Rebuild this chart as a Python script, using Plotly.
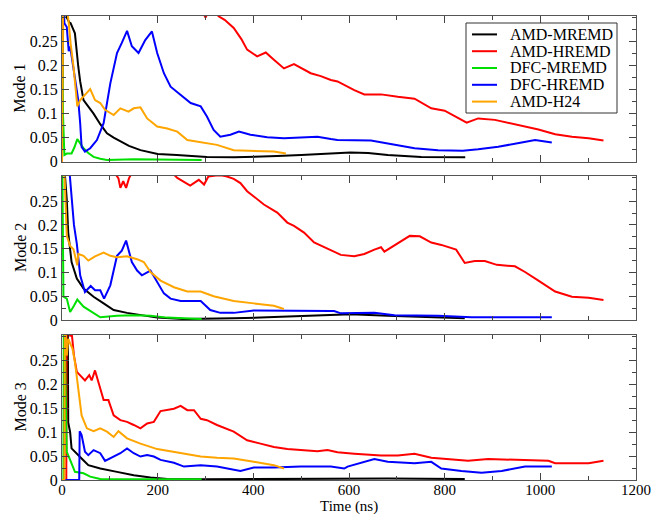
import plotly.graph_objects as go

# ---------------- data ----------------
series_names = ["AMD-MREMD", "AMD-HREMD", "DFC-MREMD", "DFC-HREMD", "AMD-H24"]
series_colors = ["#000000", "#ff0000", "#00e000", "#0000ff", "#ffa500"]
mode_labels = ["Mode 1", "Mode 2", "Mode 3"]
x_ticks = [0, 200, 400, 600, 800, 1000, 1200]
y_ticks = [0, 0.05, 0.1, 0.15, 0.2, 0.25]

# Mode 1
m1_amd_mremd_t = [0, 5, 10, 15, 18, 27, 34, 38, 45, 55, 66, 80, 94, 108, 122, 140, 164, 200, 240, 303, 360, 401, 450, 500, 541, 562, 603, 640, 681, 751, 803, 843]
m1_amd_mremd_v = [0.45, 0.33, 0.30, 0.29, 0.288, 0.267, 0.198, 0.167, 0.128, 0.115, 0.100, 0.078, 0.059, 0.050, 0.042, 0.033, 0.024, 0.016, 0.014, 0.010, 0.009, 0.010, 0.012, 0.014, 0.016, 0.017, 0.019, 0.018, 0.014, 0.010, 0.010, 0.009]
m1_amd_hremd_t = [0, 5, 50, 150, 250, 295, 300, 305, 320, 328, 340, 359, 375, 387, 408, 426, 443, 464, 485, 520, 541, 562, 576, 611, 632, 667, 702, 737, 772, 800, 846, 870, 905, 961, 996, 1031, 1066, 1101, 1132]
m1_amd_hremd_v = [0.0, 0.6, 0.45, 0.38, 0.33, 0.31, 0.30, 0.31, 0.31, 0.302, 0.295, 0.278, 0.255, 0.233, 0.219, 0.227, 0.212, 0.194, 0.203, 0.184, 0.178, 0.170, 0.167, 0.149, 0.140, 0.140, 0.135, 0.131, 0.111, 0.106, 0.081, 0.090, 0.087, 0.074, 0.067, 0.057, 0.052, 0.049, 0.044]
m1_dfc_mremd_t = [0, 2, 5, 10, 20, 26, 32, 38, 45, 55, 66, 80, 94, 150, 200, 250, 292]
m1_dfc_mremd_v = [0.4, 0.1, 0.014, 0.017, 0.017, 0.030, 0.047, 0.038, 0.028, 0.018, 0.010, 0.006, 0.0035, 0.005, 0.005, 0.004, 0.0035]
m1_dfc_hremd_t = [0, 5, 10, 14, 17, 20, 27, 34, 38, 41, 48, 59, 73, 87, 101, 115, 125, 136, 146, 160, 174, 188, 199, 213, 227, 248, 269, 290, 303, 317, 331, 352, 370, 394, 429, 464, 499, 534, 562, 576, 646, 681, 737, 786, 838, 870, 912, 961, 989, 1024]
m1_dfc_hremd_v = [0.45, 0.288, 0.28, 0.23, 0.24, 0.22, 0.177, 0.128, 0.08, 0.031, 0.021, 0.028, 0.045, 0.080, 0.163, 0.226, 0.247, 0.272, 0.240, 0.226, 0.253, 0.271, 0.226, 0.184, 0.156, 0.139, 0.122, 0.115, 0.094, 0.066, 0.052, 0.056, 0.0625, 0.056, 0.051, 0.049, 0.050, 0.052, 0.047, 0.045, 0.044, 0.038, 0.028, 0.024, 0.023, 0.026, 0.031, 0.040, 0.045, 0.040]
m1_amd_h24_t = [0, 3, 10, 14, 18, 24, 32, 38, 48, 59, 69, 80, 90, 108, 122, 139, 150, 164, 178, 199, 220, 241, 262, 290, 324, 359, 401, 443, 468]
m1_amd_h24_v = [0.0, 0.45, 0.32, 0.29, 0.246, 0.198, 0.115, 0.128, 0.139, 0.151, 0.128, 0.122, 0.108, 0.097, 0.111, 0.104, 0.111, 0.113, 0.090, 0.073, 0.069, 0.0625, 0.045, 0.040, 0.035, 0.024, 0.022, 0.021, 0.017]

# Mode 2
m2_amd_mremd_t = [0, 5, 10, 13, 20, 31, 45, 66, 87, 108, 136, 171, 199, 255, 303, 359, 429, 499, 541, 562, 604, 681, 751, 842]
m2_amd_mremd_v = [0.45, 0.32, 0.253, 0.184, 0.122, 0.087, 0.066, 0.049, 0.035, 0.021, 0.015, 0.010, 0.005, 0.002, 0.002, 0.0035, 0.0056, 0.008, 0.009, 0.010, 0.012, 0.009, 0.006, 0.0035]
m2_amd_hremd_t = [0, 50, 110, 118, 122, 128, 134, 140, 146, 160, 200, 235, 241, 255, 268, 286, 297, 306, 330, 345, 359, 373, 387, 401, 422, 450, 471, 485, 506, 527, 548, 562, 583, 611, 632, 653, 667, 674, 688, 709, 727, 748, 772, 793, 824, 842, 863, 884, 909, 947, 968, 996, 1031, 1066, 1101, 1132]
m2_amd_hremd_v = [0.6, 0.4, 0.31, 0.298, 0.278, 0.292, 0.278, 0.298, 0.31, 0.33, 0.32, 0.305, 0.299, 0.290, 0.283, 0.295, 0.285, 0.302, 0.305, 0.302, 0.297, 0.288, 0.271, 0.260, 0.243, 0.226, 0.205, 0.198, 0.184, 0.163, 0.153, 0.146, 0.137, 0.134, 0.139, 0.148, 0.153, 0.144, 0.153, 0.167, 0.177, 0.176, 0.163, 0.158, 0.148, 0.120, 0.124, 0.124, 0.116, 0.113, 0.101, 0.083, 0.060, 0.049, 0.047, 0.042]
m2_dfc_mremd_t = [0, 3, 10, 17, 25, 32, 45, 66, 80, 115, 150, 185, 220, 255, 292]
m2_dfc_mremd_v = [0.4, 0.049, 0.045, 0.017, 0.030, 0.043, 0.028, 0.014, 0.0056, 0.009, 0.010, 0.009, 0.005, 0.0035, 0.002]
m2_dfc_hremd_t = [0, 17, 20, 25, 31, 38, 48, 60, 69, 80, 88, 101, 115, 125, 134, 146, 157, 167, 185, 199, 213, 227, 248, 290, 310, 331, 359, 401, 464, 562, 569, 583, 653, 695, 786, 856, 961, 1024]
m2_dfc_hremd_v = [0.5, 0.3, 0.26, 0.20, 0.16, 0.094, 0.059, 0.0715, 0.0625, 0.0625, 0.045, 0.073, 0.135, 0.146, 0.167, 0.122, 0.104, 0.094, 0.104, 0.080, 0.056, 0.045, 0.040, 0.040, 0.021, 0.015, 0.015, 0.020, 0.019, 0.019, 0.019, 0.014, 0.015, 0.010, 0.009, 0.0056, 0.006, 0.006]
m2_amd_h24_t = [0, 5, 10, 17, 24, 32, 34, 45, 55, 69, 87, 101, 115, 136, 157, 171, 185, 206, 234, 262, 290, 317, 359, 401, 443, 464]
m2_amd_h24_v = [0.45, 0.3, 0.177, 0.156, 0.149, 0.115, 0.139, 0.135, 0.125, 0.134, 0.142, 0.135, 0.132, 0.134, 0.128, 0.122, 0.101, 0.083, 0.069, 0.060, 0.060, 0.050, 0.040, 0.035, 0.030, 0.023]

# Mode 3
m3_amd_mremd_t = [0, 12, 13, 17, 20, 31, 41, 55, 80, 115, 150, 185, 220, 290, 450, 562, 681, 842]
m3_amd_mremd_v = [0.5, 0.35, 0.12, 0.10, 0.066, 0.056, 0.045, 0.031, 0.024, 0.017, 0.010, 0.005, 0.002, 0.0014, 0.002, 0.0035, 0.003, 0.002]
m3_amd_hremd_t = [0, 9, 10, 17, 20, 25, 31, 38, 48, 57, 62, 69, 80, 87, 97, 108, 122, 136, 150, 164, 178, 192, 206, 220, 234, 248, 262, 276, 290, 303, 324, 359, 387, 415, 443, 471, 499, 534, 555, 576, 611, 667, 702, 737, 772, 807, 849, 891, 947, 1017, 1031, 1101, 1132]
m3_amd_hremd_v = [0.0, 0.0, 0.5, 0.30, 0.31, 0.26, 0.226, 0.219, 0.208, 0.219, 0.208, 0.229, 0.1875, 0.167, 0.167, 0.135, 0.125, 0.1215, 0.115, 0.108, 0.118, 0.1215, 0.144, 0.146, 0.149, 0.155, 0.146, 0.146, 0.128, 0.125, 0.115, 0.101, 0.083, 0.076, 0.069, 0.0646, 0.062, 0.060, 0.0625, 0.058, 0.055, 0.051, 0.051, 0.055, 0.0465, 0.043, 0.040, 0.044, 0.042, 0.040, 0.035, 0.035, 0.040]
m3_dfc_mremd_t = [0, 3, 4, 10, 17, 27, 45, 59, 80, 150, 292]
m3_dfc_mremd_v = [0.0, 0.0, 0.4, 0.059, 0.042, 0.017, 0.014, 0.007, 0.002, 0.0014, 0.0014]
m3_dfc_hremd_t = [0, 36, 37, 41, 48, 55, 66, 80, 90, 108, 122, 136, 150, 164, 178, 192, 206, 234, 255, 290, 324, 373, 401, 443, 499, 562, 590, 597, 653, 681, 737, 772, 793, 835, 877, 919, 968, 1024]
m3_dfc_hremd_v = [0.0, 0.0, 0.102, 0.094, 0.059, 0.052, 0.0625, 0.056, 0.040, 0.049, 0.056, 0.066, 0.056, 0.049, 0.052, 0.049, 0.042, 0.036, 0.028, 0.031, 0.028, 0.019, 0.026, 0.026, 0.028, 0.028, 0.024, 0.028, 0.044, 0.038, 0.035, 0.038, 0.024, 0.019, 0.015, 0.019, 0.028, 0.028]
m3_amd_h24_t = [0, 5, 6, 10, 13, 17, 22, 27, 34, 41, 52, 66, 80, 94, 108, 118, 136, 164, 199, 234, 262, 290, 324, 359, 401, 443, 464]
m3_amd_h24_v = [0.0, 0.0, 0.35, 0.26, 0.295, 0.285, 0.274, 0.247, 0.184, 0.135, 0.108, 0.102, 0.108, 0.101, 0.090, 0.102, 0.087, 0.076, 0.0646, 0.059, 0.053, 0.049, 0.0465, 0.045, 0.038, 0.031, 0.024]

modes = [
    [(m1_amd_mremd_t, m1_amd_mremd_v), (m1_amd_hremd_t, m1_amd_hremd_v), (m1_dfc_mremd_t, m1_dfc_mremd_v),
     (m1_dfc_hremd_t, m1_dfc_hremd_v), (m1_amd_h24_t, m1_amd_h24_v)],
    [(m2_amd_mremd_t, m2_amd_mremd_v), (m2_amd_hremd_t, m2_amd_hremd_v), (m2_dfc_mremd_t, m2_dfc_mremd_v),
     (m2_dfc_hremd_t, m2_dfc_hremd_v), (m2_amd_h24_t, m2_amd_h24_v)],
    [(m3_amd_mremd_t, m3_amd_mremd_v), (m3_amd_hremd_t, m3_amd_hremd_v), (m3_dfc_mremd_t, m3_dfc_mremd_v),
     (m3_dfc_hremd_t, m3_dfc_hremd_v), (m3_amd_h24_t, m3_amd_h24_v)],
]

# ---------------- figure ----------------
FONT = "'Liberation Serif', 'Times New Roman', Times, serif"
W, H = 654, 516
ML, MR, MT, MB = 62, 18, 16, 36
PW, PH = W - ML - MR, H - MT - MB

def px_x(p):  # pixel x -> paper x
    return (p - ML) / PW

def px_y(p):  # pixel y -> paper y
    return (H - MB - p) / PH

fig = go.Figure()

domains = [[px_y(161.7), 1.0], [px_y(320), px_y(176)], [0.0, px_y(335)]]

for i, mode in enumerate(modes):
    ax = "" if i == 0 else str(i + 1)
    for j, (t, v) in enumerate(mode):
        fig.add_trace(go.Scatter(
            x=t, y=v, mode="lines", name=series_names[j],
            line=dict(color=series_colors[j], width=2),
            showlegend=False, xaxis="x" + ax, yaxis="y" + ax,
            hoverinfo="skip",
        ))

annotations = []
shapes = []

# axis titles
for i in range(3):
    annotations.append(dict(
        text=mode_labels[i], xref="paper", yref="paper",
        x=px_x(20), y=(domains[i][0] + domains[i][1]) / 2,
        textangle=-90, showarrow=False, xanchor="center", yanchor="middle",
        font=dict(family=FONT, size=16, color="black"),
    ))
annotations.append(dict(
    text="Time (ns)", xref="paper", yref="paper", x=0.5, y=px_y(516),
    showarrow=False, xanchor="center", yanchor="bottom", borderpad=0,
    font=dict(family=FONT, size=15, color="black"),
))

# legend box (drawn in panel 1)
LX0, LX1, LY0, LY1 = 466, 617, 23, 113
shapes.append(dict(type="rect", xref="paper", yref="paper",
                   x0=px_x(LX0), x1=px_x(LX1), y0=px_y(LY1), y1=px_y(LY0),
                   line=dict(color="#333", width=1), fillcolor="white", layer="above"))
row_h = (LY1 - LY0 - 6) / len(series_names)
for j, name in enumerate(series_names):
    yc = LY0 + 3 + row_h * (j + 0.5)
    shapes.append(dict(type="line", xref="paper", yref="paper",
                       x0=px_x(472), x1=px_x(497), y0=px_y(yc), y1=px_y(yc),
                       line=dict(color=series_colors[j], width=2), layer="above"))
    annotations.append(dict(
        text=name, xref="paper", yref="paper", x=px_x(508), y=px_y(yc),
        showarrow=False, xanchor="left", yanchor="middle",
        font=dict(family=FONT, size=16, color="black"),
    ))

layout = dict(
    width=W, height=H,
    margin=dict(l=ML, r=MR, t=MT, b=MB, autoexpand=False),
    paper_bgcolor="white", plot_bgcolor="white",
    font=dict(family=FONT, size=16, color="black"),
    showlegend=False,
    annotations=annotations, shapes=shapes,
)

for i in range(3):
    ax = "" if i == 0 else str(i + 1)
    xa = dict(
        domain=[0, 1], range=[0, 1200], anchor="y" + ax, automargin=False,
        tickvals=x_ticks, ticks="inside", ticklen=7, tickwidth=1, tickcolor="#444",
        minor=dict(dtick=100, tick0=0, ticks="inside", ticklen=4, tickcolor="#444"),
        showline=True, linecolor="#555", linewidth=1, mirror="allticks",
        showgrid=False, zeroline=False,
        showticklabels=(i == 2), tickfont=dict(family=FONT, size=15, color="black"),
    )
    if i == 2:
        xa["ticklabelstandoff"] = -4
    else:
        xa["matches"] = "x3"
    ya = dict(
        domain=domains[i], range=[0, 0.303], anchor="x" + ax, automargin=False,
        tickvals=y_ticks, ticks="inside", ticklen=7, tickwidth=1, tickcolor="#444",
        minor=dict(dtick=0.025, tick0=0, ticks="inside", ticklen=4, tickcolor="#444"),
        showline=True, linecolor="#555", linewidth=1, mirror="allticks",
        showgrid=False, zeroline=False,
        tickfont=dict(family=FONT, size=16, color="black"),
    )
    layout["xaxis" + ax] = xa
    layout["yaxis" + ax] = ya

fig.update_layout(**layout)
fig.write_html("out.html")
